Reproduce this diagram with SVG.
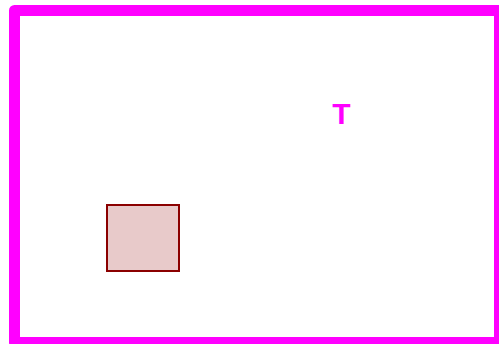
<svg xmlns="http://www.w3.org/2000/svg" width="499" height="344" viewBox="0 0 499 344">
<style>
.frame{fill:none;stroke:#ff00ff;stroke-width:11;stroke-linejoin:round}
.box{fill:#e8caca;stroke:#8b0000;stroke-width:2}
.lbl{font-family:"Liberation Sans",Arial,sans-serif;font-weight:bold;font-size:30px;fill:#ff00ff}
</style>
<rect width="499" height="344" fill="#ffffff"/>
<g id="frame"><rect class="frame" x="14.5" y="10.5" width="485" height="332"/></g>
<g id="box"><rect class="box" x="107" y="205" width="72" height="66"/></g>
<g id="label"><text class="lbl" x="341.5" y="124" text-anchor="middle">T</text></g>
<g id="connectors"></g>
</svg>
